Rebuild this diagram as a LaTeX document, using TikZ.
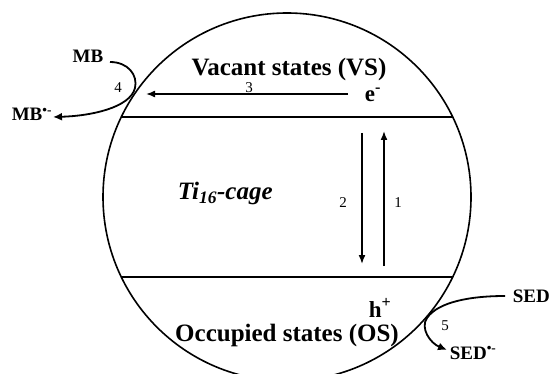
\documentclass[tikz,border=0pt]{standalone}
\usepackage{fontspec}
\setmainfont{Liberation Serif}
\usetikzlibrary{arrows.meta}
\begin{document}
\begin{tikzpicture}[x=1pt,y=-1pt,line width=1.6pt,
  big/.style={font=\fontsize{25}{25}\selectfont\bfseries,inner sep=0pt},
  carrier/.style={font=\fontsize{23}{23}\selectfont\bfseries,inner sep=0pt},
  species/.style={font=\fontsize{19}{19}\selectfont\bfseries,inner sep=0pt},
  num/.style={font=\fontsize{15}{15}\selectfont,inner sep=0pt},
  arr/.style={-{Latex[length=9pt,width=7pt]}},
  arrs/.style={-{Latex[length=9pt,width=8pt]},line width=1.8pt}]
\useasboundingbox (0,0) rectangle (551,374);
% cage outline
\draw (287,197) circle [radius=184pt];
% band edges
\coordinate (tl) at (121,117); \coordinate (tr) at (453,117);
\coordinate (bl) at (121,277); \coordinate (br) at (453,277);
\draw (tl) -- (tr);
\draw (bl) -- (br);
% texts
\node[big,anchor=base,text depth=2pt] (vs) at (289,76) {Vacant states (VS)};
\node[big,anchor=base,text height=17pt] (os) at (287,341) {Occupied states (OS)};
\node[carrier,anchor=base west,text height=11pt] (e) at (364,102) {e\textsuperscript{-}};
\node[carrier,anchor=base west,text depth=0pt] (h) at (368,317) {h\textsuperscript{+}};
\node[anchor=base west,inner sep=0pt,font=\fontsize{25}{25}\selectfont\bfseries\itshape] (ti) at (177,200) {Ti\textsubscript{16}-cage};
\node[species,anchor=base east] (mb) at (104,63) {MB};
\node[species,anchor=base west] (mbr) at (11,121) {MB\textsuperscript{•-}};
\node[species,anchor=base west] (sed) at (512,302) {SED};
\node[species,anchor=base west] (sedr) at (449,359) {SED\textsuperscript{•-}};
% arrows 1,2,3
\coordinate (a3s) at (348,94); \coordinate (a3e) at (146,94);
\draw[arr] (a3s) -- (a3e);
\coordinate (a2s) at (362,133); \coordinate (a2e) at (362,264);
\draw[arr] (a2s) -- (a2e);
\coordinate (a1s) at (384,266); \coordinate (a1e) at (384,131);
\draw[arr] (a1s) -- (a1e);
\node[num] (n3) at (249,88) {3};
\node[num] (n2) at (343,203) {2};
\node[num] (n1) at (398,203) {1};
% MB reduction
\coordinate (mbs) at (110,62); \coordinate (mbt) at (53,117);
\draw[arrs] (mbs) .. controls (128,62) and (138,75) .. (135,88)
  .. controls (130,108) and (90,116) .. (mbt);
\node[num] (n4) at (118,88) {4};
% SED oxidation
\coordinate (seds) at (505,296); \coordinate (sedt) at (447,350);
\draw[arrs] (seds) .. controls (470,296) and (438,302) .. (427,318)
  .. controls (420,328) and (430,343) .. (sedt);
\node[num] (n5) at (445,326) {5};
\end{tikzpicture}
\end{document}
